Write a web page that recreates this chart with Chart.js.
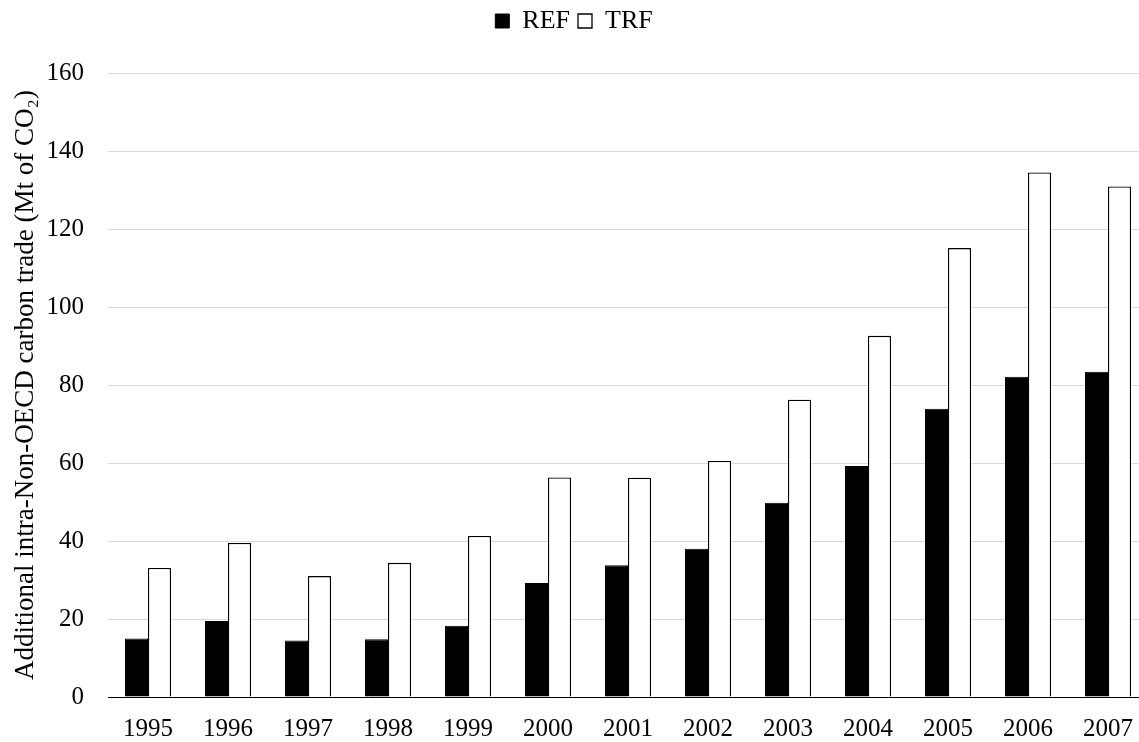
<!DOCTYPE html>
<html>
<head>
<meta charset="utf-8">
<script src="https://cdn.jsdelivr.net/npm/chart.js@4"></script>
<style>
    html, body { margin: 0; padding: 0; background: #fff; overflow: hidden; }
    #wrap { width: 1148px; height: 742px; }
</style>
</head>
<body>
<div id="wrap"><canvas id="trade-chart" width="1148" height="742"></canvas></div>
<script>
// Data
const years = ['1995', '1996', '1997', '1998', '1999', '2000', '2001', '2002', '2003', '2004', '2005', '2006', '2007'];
const refValues = [15.0, 19.5, 14.5, 14.8, 18.3, 29.2, 33.8, 38.0, 49.8, 59.2, 73.9, 82.1, 83.4];
const trfValues = [33.1, 39.5, 31.0, 34.4, 41.3, 56.3, 56.2, 60.5, 76.2, 92.6, 115.1, 134.5, 130.9];
const yTicks = [0, 20, 40, 60, 80, 100, 120, 140, 160];

const serif = "'Liberation Serif', 'Times New Roman', serif";

// push the plot area down below the legend
const legendSpacer = {
    id: 'legendSpacer',
    beforeInit(chart) {
        const fit = chart.legend.fit;
        chart.legend.fit = function () {
            fit.bind(chart.legend)();
            this.height = 73;
        };
    }
};

new Chart(document.getElementById('trade-chart'), {
    type: 'bar',
    data: {
        labels: years,
        datasets: [
            {
                label: 'REF',
                data: refValues,
                backgroundColor: '#000000',
                borderColor: '#000000',
                borderWidth: 1,
            },
            {
                label: 'TRF',
                data: trfValues,
                backgroundColor: '#ffffff',
                borderColor: '#000000',
                borderWidth: 1.3,
            }
        ]
    },
    options: {
        responsive: false,
        animation: false,
        devicePixelRatio: 1,
        categoryPercentage: 0.575,
        barPercentage: 1,
        layout: { padding: 0 },
        plugins: {
            legend: {
                position: 'top',
                labels: {
                    color: '#000',
                    boxWidth: 14,
                    boxHeight: 14,
                    padding: 8,
                    font: { family: serif, size: 26 },
                },
            },
            tooltip: { enabled: false },
        },
        scales: {
            x: {
                grid: { display: false },
                border: { display: true, color: '#000', width: 1 },
                ticks: {
                    color: '#000',
                    padding: 9,
                    maxRotation: 0,
                    font: { family: serif, size: 25 },
                },
                afterFit(scale) { scale.height = 45; },
            },
            y: {
                min: 0,
                max: 160,
                afterBuildTicks(scale) { scale.ticks = yTicks.map(v => ({ value: v })); },
                grid: { color: '#d9d9d9', lineWidth: 1, drawTicks: false },
                border: { display: false },
                ticks: {
                    color: '#000',
                    padding: 24,
                    font: { family: serif, size: 25 },
                },
                title: {
                    display: true,
                    text: 'Additional intra-Non-OECD carbon trade (Mt of CO₂)',
                    color: '#000',
                    padding: { top: 10, bottom: 0 },
                    font: { family: serif, size: 27 },
                },
                afterFit(scale) { scale.width = 108; },
            },
        },
    },
    plugins: [legendSpacer],
});
</script>
</body>
</html>
